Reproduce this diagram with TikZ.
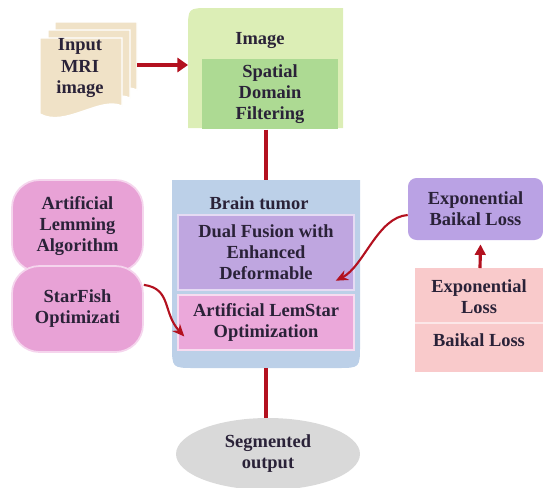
\documentclass[tikz,border=0pt]{standalone}
\usepackage{fontspec}
\setmainfont{Liberation Serif}
\usetikzlibrary{shapes.geometric,arrows.meta}

\definecolor{flowred}{HTML}{B3111F}
\definecolor{inkdark}{HTML}{2A2238}
\definecolor{pagebeige}{HTML}{F0E2C7}
\definecolor{greenlight}{HTML}{DCEEB6}
\definecolor{greendark}{HTML}{ADDA93}
\definecolor{brainblue}{HTML}{BCD0E8}
\definecolor{fusionpurple}{HTML}{BFA6E0}
\definecolor{starpink}{HTML}{EBA8DA}
\definecolor{leftpink}{HTML}{E8A2D6}
\definecolor{losspurple}{HTML}{BAA2E4}
\definecolor{losspink}{HTML}{F9CACB}
\definecolor{outgray}{HTML}{D9D9D9}

\tikzset{
  txt/.style={text=inkdark, font=\fontsize{10.5}{12}\selectfont\bfseries, align=center},
  hidden/.style={inner sep=0pt, outer sep=0pt},
  bigflow/.style={flowred, line width=2.4pt, -{Triangle[length=6pt,width=8pt]}},
  plainflow/.style={flowred, line width=1.8pt},
  curveflow/.style={flowred, line width=1.2pt, -{Stealth[length=7pt,width=6pt]}},
  upflow/.style={flowred, line width=1.8pt, -{Triangle[length=6pt,width=6pt]}},
}

\begin{document}
\begin{tikzpicture}[x=0.02cm, y=-0.02cm]
  \useasboundingbox (0,0) rectangle (543,487);

  % input document stack
  \foreach \dx/\dy in {15/-16, 8/-8, 0/0} {
    \filldraw[pagebeige, draw=white, line width=0.8pt, shift={(\dx,\dy)}]
      (40,38) -- (122,38) -- (122,106) .. controls (100,96) and (65,128) .. (40,114) -- cycle;
  }
  \node[txt] (mri) at (80,68) {Input\\MRI\\image};
  \node[hidden, minimum width=1.94cm, minimum height=1.9cm] (doc) at (88.5,65) {};

  % image block
  \fill[greenlight] (188,128) -- (188,30) .. controls (188,8) .. (210,8) -- (343,8) -- (343,128) -- cycle;
  \node[hidden, minimum width=3.1cm, minimum height=2.4cm] (imagebox) at (265.5,65) {};
  \node[txt] (imgtitle) at (260,40) {Image};
  \node[txt, fill=greendark, minimum width=2.72cm, minimum height=1.36cm] (spatial) at (270,94) {Spatial\\Domain\\Filtering};

  % brain tumor block
  \fill[brainblue] (172,180) -- (360,180) -- (360,345) .. controls (360,368) .. (337,368)
    -- (195,368) .. controls (172,368) .. (172,345) -- cycle;
  \node[hidden, minimum width=3.76cm, minimum height=3.76cm] (brainbox) at (266,274) {};
  \node[txt] (braintitle) at (259,203) {Brain tumor};
  \node[txt, fill=fusionpurple, draw=white!60!fusionpurple, line width=0.8pt,
        minimum width=3.52cm, minimum height=1.5cm] (dual) at (266,252.5) {Dual Fusion with\\Enhanced\\Deformable};
  \node[txt, fill=starpink, draw=white!60!starpink, line width=0.8pt,
        minimum width=3.52cm, minimum height=1.1cm] (lemstar) at (266,322.5) {Artificial LemStar\\Optimization};

  % output
  \node[txt, ellipse, fill=outgray, inner sep=0pt, minimum width=3.68cm, minimum height=1.44cm] (output) at (268,454) {Segmented\\output};

  % left optimisers
  \node[txt, fill=leftpink, draw=white!55!leftpink, line width=1pt, rounded corners=0.55cm,
        minimum width=2.62cm, minimum height=1.84cm] (lemming) at (77.5,226) {Artificial\\Lemming\\Algorithm};
  \node[txt, fill=leftpink, draw=white!55!leftpink, line width=1pt, rounded corners=0.55cm,
        minimum width=2.62cm, minimum height=1.72cm] (starfish) at (77.5,309) {StarFish\\Optimizati};

  % loss blocks
  \node[txt, fill=losspurple, rounded corners=0.17cm,
        minimum width=2.7cm, minimum height=1.24cm] (expbaikal) at (475.5,209) {Exponential\\Baikal Loss};
  \node[hidden, fill=losspink, minimum width=2.56cm, minimum height=2.08cm] (loss) at (479,320) {};
  \draw[white!55!losspink, line width=0.8pt] (loss.west |- 0,323) -- (loss.east |- 0,323);
  \node[txt] (exploss) at (479,297) {Exponential\\Loss};
  \node[txt] (baikalloss) at (479,340) {Baikal Loss};

  % connectors
  \draw[bigflow] (doc.east) -- (imagebox.west |- doc.east);
  \draw[plainflow] (spatial.south -| brainbox.north) -- (brainbox.north);
  \draw[plainflow] (brainbox.south) -- (output.north -| brainbox.south);
  \draw[curveflow] (starfish.20) .. controls +(28,4) and +(-22,-24) .. ([shift={(7,14)}]lemstar.west);
  \draw[curveflow] ([shift={(0,6)}]expbaikal.west) .. controls +(-30,2) and +(28,-14) .. ([shift={(-19,-10)}]dual.south east);
  \draw[upflow] ([xshift=0.02cm]loss.north) -- ([xshift=0.1cm, yshift=-0.08cm]expbaikal.south);
\end{tikzpicture}
\end{document}
